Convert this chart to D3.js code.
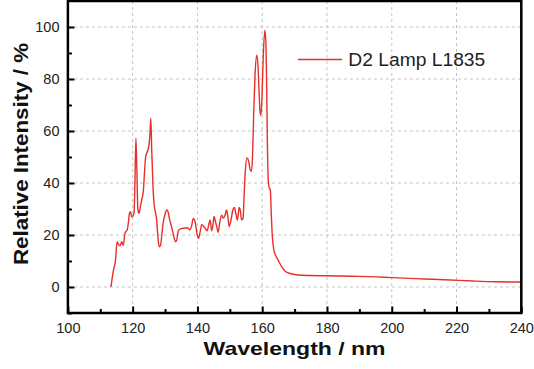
<!doctype html>
<html>
<head>
<meta charset="utf-8">
<script src="https://d3js.org/d3.v7.min.js"></script>
<style>
  body { margin: 0; background: #fff; }
  svg { display: block; font-family: "Liberation Sans", Arial, sans-serif; }
</style>
</head>
<body>
<svg id="svg" width="534" height="369"></svg>
<script>
// spectrum
const wavelength = [
  113.3, 114.0, 114.7, 115.2, 115.6, 116.1, 116.6, 117.1, 117.6, 118.0,
  118.3, 118.7, 119.0, 119.3, 119.7, 120.0, 120.4, 120.7, 121.0, 121.3,
  121.6, 121.9, 122.4, 122.8, 123.3, 123.7, 124.0, 124.5, 124.9, 125.3,
  125.6, 125.9, 126.3, 126.6, 127.0, 127.4, 127.8, 128.2, 128.6, 129.0,
  129.4, 130.0, 130.5, 130.9, 131.4, 132.0, 132.6, 133.2, 133.6, 134.1,
  134.6, 135.1, 136.0, 137.0, 137.6, 138.2, 138.7, 139.3, 139.8, 140.3,
  140.8, 141.3, 141.8, 142.3, 143.0, 143.5, 143.9, 144.4, 144.8, 145.1,
  145.6, 146.0, 146.4, 146.9, 147.5, 148.0, 148.5, 149.0, 149.4, 149.8,
  150.4, 150.9, 151.4, 151.9, 152.3, 152.6, 152.9, 153.3, 153.6, 154.1,
  154.4, 154.8, 155.3, 155.8, 156.3, 156.7, 157.0, 157.4, 157.8, 158.3,
  158.7, 159.0, 159.3, 159.6, 159.9, 160.3, 160.8, 161.1, 161.4, 161.6,
  161.9, 162.2, 162.5, 162.8, 163.1, 163.6, 164.2, 164.9, 166.0, 167.0,
  168.5, 170.0, 172, 180, 190, 195, 200, 210, 218, 225, 232, 240
];
const intensity = [
  0, 6, 10.4, 17.4, 16.5, 15.8, 17.4, 16, 20.6, 21.5,
  21.9, 25, 28.3, 29, 27, 27.2, 28.3, 40, 57.2, 45,
  30, 28.3, 31, 33.5, 37, 45, 50, 52, 53.5, 58,
  64.9, 52, 38, 32, 29, 26, 19, 15.5, 16, 20,
  24.5, 28, 29.6, 29, 26, 23.2, 20, 17.4, 18, 21.6,
  22.3, 22.5, 22.7, 22.7, 22, 23.5, 26.4, 25, 21, 18.7,
  21, 24, 23.5, 22.8, 21.6, 24, 25.8, 21.6, 24, 27.1,
  25, 23, 21, 25, 27.6, 26.5, 27.5, 29.6, 27, 23.2,
  26, 29.5, 30.6, 28, 25.8, 28, 30.6, 29, 25.8, 26.5,
  35, 45, 49.6, 48.5, 45, 44.5, 50, 68, 82, 89.2,
  85, 76, 68, 66, 72, 88, 98.8, 95, 75, 55,
  40.5, 38, 37.5, 28, 20, 14.2, 12, 10.4, 7.8, 6.2,
  5.3, 4.8, 4.5, 4.3, 4.1, 3.9, 3.6, 3.1, 2.7, 2.3, 2.0, 1.9
];
const seriesName = "D2 Lamp L1835";
const xMajor = [100, 120, 140, 160, 180, 200, 220, 240];
const xMinor = [110, 130, 150, 170, 190, 210, 230];
const yMajor = [0, 20, 40, 60, 80, 100];
const yMinor = [-10, 10, 30, 50, 70, 90];

const svg = d3.select("#svg");
const plotLeft = 67.9, plotRight = 521.3, plotTop = 1, plotBottom = 313;
const lineColor = "#e8302a";

const x = d3.scaleLinear().domain([100, 240]).range([plotLeft, plotRight]);
const y = d3.scaleLinear().domain([-10, 110]).range([plotBottom, plotTop]);

svg.append("rect").attr("width", 534).attr("height", 369).attr("fill", "#fff");

// dashed grid
const grid = svg.append("g")
  .attr("stroke", "#c4c4c4").attr("stroke-width", 1).attr("stroke-dasharray", "3,3");
grid.selectAll(".gx").data(xMajor.filter(d => d > 100 && d < 240)).join("line")
  .attr("x1", d => x(d)).attr("x2", d => x(d)).attr("y1", plotTop).attr("y2", plotBottom);
grid.selectAll(".gy").data(yMajor).join("line")
  .attr("y1", d => y(d)).attr("y2", d => y(d)).attr("x1", plotLeft).attr("x2", plotRight);

// spectrum
const pts = wavelength.map((w, i) => [w, intensity[i]]);
svg.append("path")
  .datum(pts)
  .attr("fill", "none")
  .attr("stroke", lineColor)
  .attr("stroke-width", 1.4)
  .attr("stroke-linejoin", "round")
  .attr("d", d3.line().x(d => x(d[0])).y(d => y(d[1])).curve(d3.curveMonotoneX));

// axes
const xAx = svg.append("g").attr("transform", `translate(0,${plotBottom})`)
  .call(d3.axisBottom(x).tickValues(xMajor).tickSize(-6.5).tickPadding(9.5).tickFormat(d3.format("d")));
const xAxMin = svg.append("g").attr("transform", `translate(0,${plotBottom})`)
  .call(d3.axisBottom(x).tickValues(xMinor).tickSize(-4).tickFormat(""));
const yAx = svg.append("g").attr("transform", `translate(${plotLeft},0)`)
  .call(d3.axisLeft(y).tickValues(yMajor).tickSize(-6.5).tickPadding(8.4).tickFormat(d3.format("d")));
const yAxMin = svg.append("g").attr("transform", `translate(${plotLeft},0)`)
  .call(d3.axisLeft(y).tickValues(yMinor).tickSize(-4).tickFormat(""));

[xAx, xAxMin, yAx, yAxMin].forEach(g => {
  g.select(".domain").remove();
  g.selectAll(".tick line").attr("stroke", "#000").attr("stroke-width", 2);
  g.selectAll(".tick text").attr("font-size", 14.5).attr("fill", "#222")
    .attr("font-family", "Liberation Sans, Arial, sans-serif");
});

// frame
svg.append("rect")
  .attr("x", plotLeft).attr("y", plotTop)
  .attr("width", plotRight - plotLeft).attr("height", plotBottom - plotTop)
  .attr("fill", "none").attr("stroke", "#000").attr("stroke-width", 2.5);

// axis titles
svg.append("text")
  .attr("x", (plotLeft + plotRight) / 2).attr("y", 355)
  .attr("text-anchor", "middle")
  .attr("font-size", 19).attr("font-weight", "bold").attr("fill", "#111")
  .attr("textLength", 182).attr("lengthAdjust", "spacingAndGlyphs")
  .text("Wavelength / nm");

svg.append("text")
  .attr("transform", "translate(28,154) rotate(-90)")
  .attr("text-anchor", "middle")
  .attr("font-size", 20.5).attr("font-weight", "bold").attr("fill", "#111")
  .attr("textLength", 222).attr("lengthAdjust", "spacingAndGlyphs")
  .text("Relative Intensity / %");

// legend
svg.append("line")
  .attr("x1", 298).attr("x2", 342).attr("y1", 59.5).attr("y2", 59.5)
  .attr("stroke", lineColor).attr("stroke-width", 1.4);
svg.append("text")
  .attr("x", 348.3).attr("y", 66)
  .attr("font-size", 17.5).attr("fill", "#222")
  .attr("textLength", 137).attr("lengthAdjust", "spacingAndGlyphs")
  .text(seriesName);
</script>
</body>
</html>
